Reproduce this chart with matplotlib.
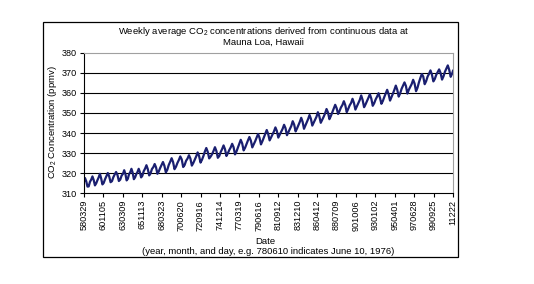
import numpy as np
import matplotlib
matplotlib.use('Agg')
import matplotlib.pyplot as plt
from matplotlib.patches import Rectangle

plt.rcParams['font.family'] = ['Liberation Sans', 'DejaVu Sans']
plt.rcParams['mathtext.fontset'] = 'custom'
plt.rcParams['mathtext.rm'] = 'Liberation Sans'

# x-axis category labels (yymmdd)
tick_labels = ['580329', '601105', '630309', '651113', '680323', '700620',
               '720916', '741214', '770319', '790616', '810912', '831210',
               '860412', '880709', '901006', '930102', '950401', '970628',
               '990925', '11222']

sample_months = [1, 3, 5, 7, 9, 11]
years = list(range(1958, 2002))
co2 = [
    [None, 315.7, 317.5, 315.9, 313.2, 313.3],  # 1958
    [315.6, 316.7, 318.3, 316.5, 313.8, 314.8],
    [316.4, 317.8, 319.6, 317.3, 314.3, 315.0],  # 1960
    [316.9, 318.5, 320.0, 318.3, 315.4, 315.9],
    [317.9, 319.3, 320.5, 319.0, 316.0, 316.7],
    [318.7, 319.6, 321.4, 319.5, 316.3, 317.1],
    [319.4, 320.4, 322.1, 320.2, 316.9, 317.8],
    [319.4, 320.5, 322.1, 320.4, 317.8, 318.6],
    [320.9, 322.2, 323.9, 321.9, 318.8, 319.8],
    [322.0, 322.9, 324.5, 322.8, 319.6, 320.8],
    [322.5, 324.0, 325.5, 323.6, 320.3, 321.6],
    [324.0, 325.6, 327.4, 325.5, 321.9, 323.1],
    [325.0, 326.5, 328.3, 326.8, 323.0, 324.0],  # 1970
    [326.1, 327.2, 328.9, 327.2, 323.7, 325.0],
    [326.7, 328.3, 330.3, 328.5, 325.2, 326.6],
    [328.5, 330.7, 332.5, 330.6, 327.3, 328.2],
    [329.4, 331.0, 332.9, 331.0, 327.6, 328.5],
    [330.5, 332.0, 333.8, 331.9, 328.5, 329.9],
    [331.5, 332.8, 334.6, 332.9, 329.3, 330.7],
    [332.7, 334.6, 336.6, 334.8, 331.3, 332.6],
    [334.5, 336.3, 338.0, 336.2, 332.8, 334.3],
    [335.9, 337.7, 339.5, 337.6, 334.3, 335.9],
    [337.8, 339.7, 341.5, 339.5, 336.3, 337.8],  # 1980
    [339.3, 340.8, 342.8, 341.0, 337.7, 339.2],
    [340.6, 342.1, 344.1, 342.4, 338.9, 340.4],
    [341.8, 343.5, 345.9, 344.2, 340.8, 342.3],
    [344.0, 345.6, 347.6, 345.6, 342.1, 343.7],
    [345.3, 347.0, 349.0, 347.1, 343.7, 345.2],
    [346.6, 348.1, 350.4, 348.4, 345.1, 346.6],
    [348.1, 349.8, 352.0, 350.3, 346.9, 348.5],
    [350.4, 352.2, 354.1, 352.4, 349.5, 351.0],
    [352.8, 354.0, 355.9, 353.9, 350.4, 352.0],
    [353.8, 355.0, 357.1, 355.0, 351.7, 353.3],  # 1990
    [354.9, 356.5, 358.8, 356.5, 352.9, 354.3],
    [355.9, 357.6, 359.4, 357.2, 353.6, 354.9],
    [356.8, 358.2, 359.9, 357.6, 354.6, 356.0],
    [358.0, 359.8, 361.6, 359.4, 356.2, 357.9],
    [359.7, 361.6, 363.7, 361.6, 358.2, 359.8],
    [362.1, 363.7, 365.3, 363.5, 359.7, 361.6],
    [363.1, 364.5, 366.6, 364.7, 360.9, 362.6],
    [365.3, 367.5, 369.5, 368.2, 364.4, 365.9],
    [368.2, 369.6, 371.3, 369.2, 365.8, 367.0],
    [369.1, 370.5, 371.8, 370.0, 366.7, 368.3],  # 2000
    [370.6, 372.2, 373.8, 371.5, 368.1, 369.7],
]
last_value = 371.1  # late Dec 2001


def label_to_year(s):
    s = s.zfill(6)
    yy, mm, dd = int(s[:2]), int(s[2:4]), int(s[4:])
    y = 1900 + yy if yy >= 50 else 2000 + yy
    return y + (mm - 1) / 12 + (dd - 1) / 365


label_years = np.array([label_to_year(s) for s in tick_labels])

t, v = [], []
for y, row in zip(years, co2):
    for m, val in zip(sample_months, row):
        if val is None:
            continue
        t.append(y + (m - 0.5) / 12)
        v.append(val)
t.append(label_years[-1])
v.append(last_value)

# categories are evenly spaced between the labelled weeks
xpos = np.interp(t, label_years, np.arange(len(tick_labels)))

fig = plt.figure(figsize=(5.34, 2.84), dpi=100)
ax = fig.add_axes([0.1573, 0.3204, 0.691, 0.493])

ax.plot(xpos, v, color='#1a1f70', lw=1.6)

ax.set_xlim(0, len(tick_labels) - 1)
ax.set_ylim(310, 380)
ax.set_yticks(np.arange(310, 381, 10))
ax.set_xticks(np.arange(len(tick_labels)))
ax.set_xticklabels(tick_labels, rotation=90, fontsize=6.6)
ax.tick_params(axis='y', labelsize=6.6, length=3, width=0.8, pad=2, direction='out')
ax.tick_params(axis='x', length=3, width=0.8, pad=2, direction='out')

for yv in range(320, 380, 10):
    ax.axhline(yv, color='black', lw=0.8, zorder=0)
for side in ['top', 'right']:
    ax.spines[side].set_color('#a0a0a0')
    ax.spines[side].set_linewidth(0.8)
for side in ['left', 'bottom']:
    ax.spines[side].set_color('black')
    ax.spines[side].set_linewidth(0.8)

fig.text(0.494, 0.888, 'Weekly average CO$_2$ concentrations derived from continuous data at',
         ha='center', va='center', fontsize=6.8)
fig.text(0.494, 0.850, 'Mauna Loa, Hawaii', ha='center', va='center', fontsize=6.8)
fig.text(0.099, 0.57, 'CO$_2$ Concentration (ppmv)', rotation=90,
         ha='center', va='center', fontsize=6.8)
fig.text(0.496, 0.149, 'Date', ha='center', va='center', fontsize=6.8)
fig.text(0.502, 0.116, '(year, month, and day, e.g. 780610 indicates June 10, 1976)',
         ha='center', va='center', fontsize=6.8)

fig.patches.append(Rectangle((0.0805, 0.0951), 0.7772, 0.8275, transform=fig.transFigure,
                             fill=False, edgecolor='black', lw=0.9))

fig.savefig('out.png', dpi=100)
